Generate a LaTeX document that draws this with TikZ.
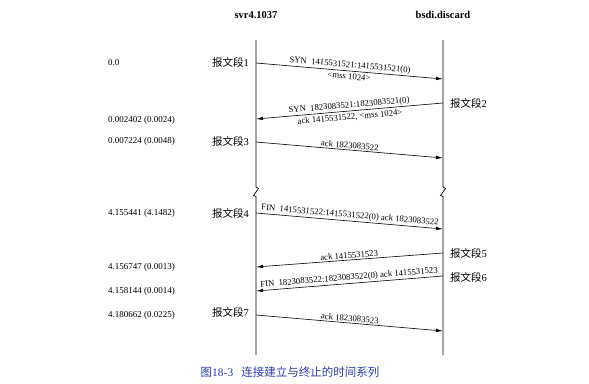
\documentclass[tikz,border=0pt]{standalone}
\usepackage{fontspec}
\setmainfont{Liberation Serif}
\newfontfamily\cjk{Noto Sans CJK SC}
\usetikzlibrary{arrows.meta}
\definecolor{capblue}{RGB}{40,60,170}
\begin{document}
\begin{tikzpicture}[x=1pt,y=-1pt,
  timeline/.style={line width=0.7pt},
  msg/.style={line width=0.6pt,-{Latex[length=7pt,width=3.4pt]}},
  lab/.style={font=\fontsize{8.7}{10}\selectfont,inner sep=0.8pt},
  tlab/.style={font=\fontsize{9}{10}\selectfont,anchor=west,inner sep=0pt},
  seg/.style={font=\fontsize{10.5}{12}\selectfont,inner sep=0pt},
  hdr/.style={font=\fontsize{10.5}{12}\selectfont\bfseries}]
\useasboundingbox (0,0) rectangle (589,383);

% headers
\node[hdr] (h1) at (256,15) {svr4.1037};
\node[hdr] (h2) at (443,15) {bsdi.discard};

% timelines with break marks
\coordinate (Lt) at (256,40);  \coordinate (Lb) at (256,355);
\coordinate (Rt) at (443,40);  \coordinate (Rb) at (443,355);
\draw[timeline] (Lt) -- (256,187) -- (258.5,188.5) -- (253.5,195.5) -- (256,196.5) -- (Lb);
\draw[timeline] (Rt) -- (443,187) -- (445.5,188.5) -- (440.5,195.5) -- (443,196.5) -- (Rb);

% message end points
\coordinate (a1) at (256,63);  \coordinate (b1) at (443,79);
\coordinate (b2) at (443,103); \coordinate (a2) at (256,119);
\coordinate (a3) at (256,142); \coordinate (b3) at (443,158);
\coordinate (a4) at (256,213); \coordinate (b4) at (443,229);
\coordinate (b5) at (443,253); \coordinate (a5) at (256,267);
\coordinate (b6) at (443,276); \coordinate (a6) at (256,291);
\coordinate (a7) at (256,315); \coordinate (b7) at (443,331);

% messages
\draw[msg] (a1) -- (b1)
  node[lab,midway,above=0.5pt,sloped] (m1a) {SYN\ \ 1415531521:1415531521(0)}
  node[lab,midway,below=1.5pt,sloped] (m1b) {<mss 1024>};
\draw[msg] (b2) -- (a2)
  node[lab,midway,above=0.3pt,sloped] (m2a) {SYN\ \ 1823083521:1823083521(0)}
  node[lab,midway,below=1.5pt,sloped] (m2b) {ack 1415531522, <mss 1024>};
\draw[msg] (a3) -- (b3)
  node[lab,midway,above=0.5pt,sloped] (m3) {ack 1823083522};
\draw[msg] (a4) -- (b4)
  node[lab,midway,above=0.5pt,sloped] (m4) {FIN\ \ 1415531522:1415531522(0) ack 1823083522};
\draw[msg] (b5) -- (a5)
  node[lab,midway,above=0.5pt,sloped] (m5) {ack 1415531523};
\draw[msg] (b6) -- (a6)
  node[lab,midway,above=0.5pt,sloped] (m6) {FIN\ \ 1823083522:1823083522(0) ack 1415531523};
\draw[msg] (a7) -- (b7)
  node[lab,midway,above=0.5pt,sloped] (m7) {ack 1823083523};

% time labels
\node[tlab] (t1) at (108,63)  {0.0};
\node[tlab] (t2) at (108,120) {0.002402 (0.0024)};
\node[tlab] (t3) at (108,141) {0.007224 (0.0048)};
\node[tlab] (t4) at (108,213) {4.155441 (4.1482)};
\node[tlab] (t5) at (108,267) {4.156747 (0.0013)};
\node[tlab] (t6) at (108,291) {4.158144 (0.0014)};
\node[tlab] (t7) at (108,315) {4.180662 (0.0225)};

% segment labels
\node[seg,anchor=east] (s1) at (249,62)  {{\cjk 报文段}1};
\node[seg,anchor=east] (s3) at (249,141) {{\cjk 报文段}3};
\node[seg,anchor=east] (s4) at (249,213) {{\cjk 报文段}4};
\node[seg,anchor=east] (s7) at (249,312) {{\cjk 报文段}7};
\node[seg,anchor=west] (s2) at (450,103) {{\cjk 报文段}2};
\node[seg,anchor=west] (s5) at (450,253) {{\cjk 报文段}5};
\node[seg,anchor=west] (s6) at (450,277) {{\cjk 报文段}6};

% caption
\node[font=\fontsize{11.5}{13}\selectfont,text=capblue] (cap) at (290,372)
  {{\cjk 图}18-3\hspace{8pt}{\cjk 连接建立与终止的时间系列}};
\end{tikzpicture}
\end{document}
